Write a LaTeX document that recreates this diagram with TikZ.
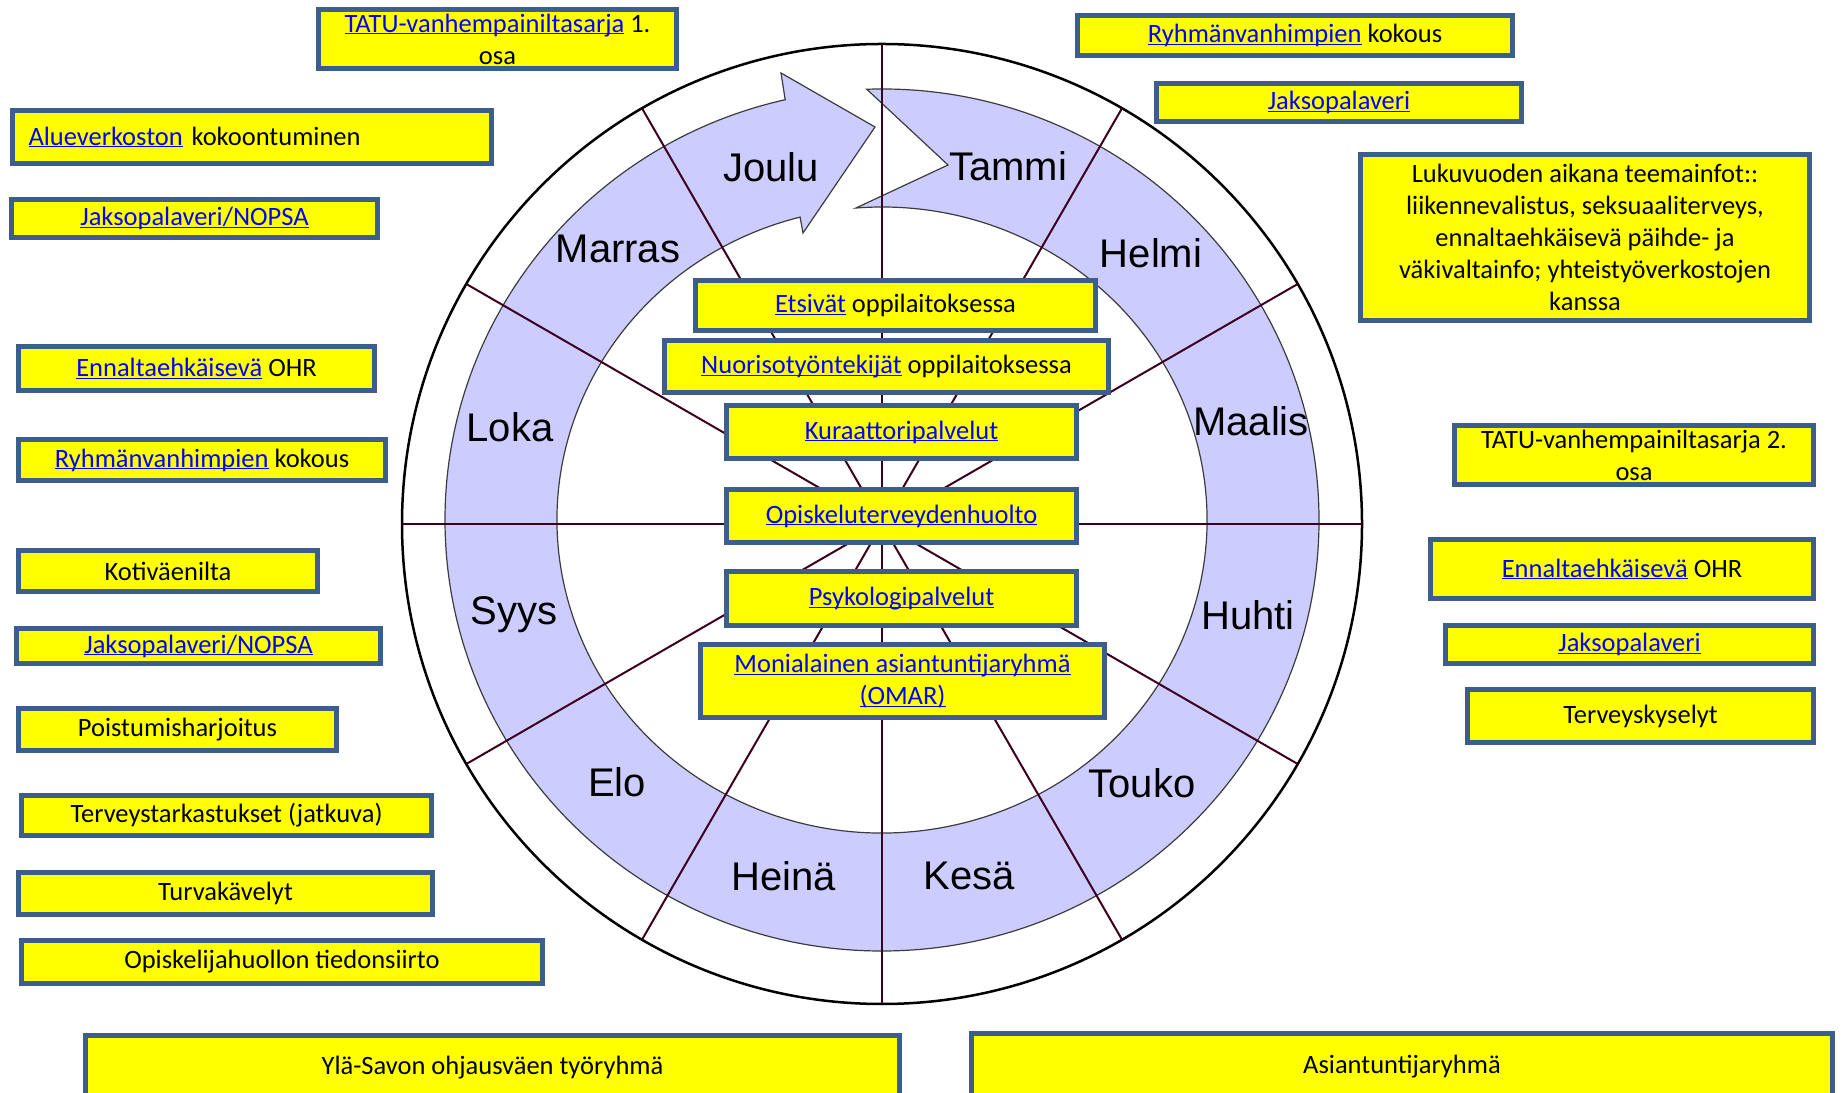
\documentclass[tikz,border=0pt]{standalone}
\usepackage{fontspec}
\setmainfont{Carlito}
\newfontfamily\monthfont{Liberation Sans}
\definecolor{boxyellow}{RGB}{255,255,0}
\definecolor{boxblue}{RGB}{59,94,140}
\definecolor{ringfill}{RGB}{204,204,255}
\definecolor{ringline}{RGB}{60,60,60}
\definecolor{spokecol}{RGB}{60,0,30}
\definecolor{linkblue}{RGB}{0,0,255}
\newcommand\lnk[1]{\textcolor{linkblue}{\underline{\smash{#1}}}\vphantom{#1}}
\tikzset{
  evbox/.style={draw=boxblue, line width=5pt, fill=boxyellow, inner sep=0pt, align=center, font=\fontsize{26.5}{32}\selectfont},
  month/.style={font=\monthfont\fontsize{40}{48}\selectfont},
  spokeline/.style={draw=spokecol, line width=2pt},
}
\begin{document}
\begin{tikzpicture}[x=1pt,y=1pt]
\useasboundingbox (0,0) rectangle (1843,1092);
\coordinate (c) at (882,568);
\draw[line width=2.5pt] (c) circle (480);
\begin{scope}[shift={(882,572)}]
\path[fill=ringfill, draw=ringline, line width=1.2pt]
  (92:437 and 431) arc[start angle=92, end angle=-257.2, x radius=437, y radius=431]
  -- (-101,447) -- (-7,393) -- (-79,287) -- (104.6:325 and 313)
  arc[start angle=-255.4, end angle=94.6, x radius=325, y radius=313]
  -- (66,355) -- cycle;
\end{scope}
\foreach \a in {0,30,...,330}
  \path[spokeline] (c) -- ++(\a:480);
\node[month] (tammi) at (1008,926) {Tammi};
\node[month] (helmi) at (1151,839) {Helmi};
\node[month] (maalis) at (1251,671) {Maalis};
\node[month] (huhti) at (1248,477) {Huhti};
\node[month] (touko) at (1142,309) {Touko};
\node[month] (kesa) at (969,216) {Kesä};
\node[month] (heina) at (784,216) {Heinä};
\node[month] (elo) at (617,310) {Elo};
\node[month] (syys) at (514,477) {Syys};
\node[month] (loka) at (510,665) {Loka};
\node[month] (marras) at (618,843) {Marras};
\node[month] (joulu) at (771,925) {Joulu};
\node[evbox, minimum width=358, minimum height=59] (tatu1) at (497.5,1053) {\lnk{TATU-vanhempainiltasarja} 1.\\osa};
\node[evbox, align=left, text width=447, inner xsep=16, minimum height=53] (aluev) at (252,955) {\lnk{Alueverkoston} kokoontuminen};
\node[evbox, minimum width=366, minimum height=38] (jakso1) at (194.5,873.5) {\lnk{Jaksopalaveri/NOPSA}};
\node[evbox, minimum width=356, minimum height=44] (ohr1) at (196.5,723.5) {\lnk{Ennaltaehkäisevä} OHR};
\node[evbox, minimum width=367, minimum height=41] (ryhma1) at (202,632) {\lnk{Ryhmänvanhimpien} kokous};
\node[evbox, minimum width=299, minimum height=41] (koti) at (168,521) {Kotiväenilta};
\node[evbox, minimum width=364, minimum height=35] (jakso2) at (198.5,446) {\lnk{Jaksopalaveri/NOPSA}};
\node[evbox, minimum width=318, minimum height=42] (poist) at (177.5,362.5) {Poistumisharjoitus};
\node[evbox, minimum width=410, minimum height=40] (tarkast) at (226.5,276.5) {Terveystarkastukset (jatkuva)};
\node[evbox, minimum width=414, minimum height=42] (turva) at (225.5,198.5) {Turvakävelyt};
\node[evbox, minimum width=521, minimum height=43] (siirto) at (282,130) {Opiskelijahuollon tiedonsiirto};
\node[evbox, minimum width=814, minimum height=65] (ylasavo) at (492.5,24) {Ylä-Savon ohjausväen työryhmä};
\node[evbox, minimum width=861, minimum height=67] (asiant) at (1402,25) {Asiantuntijaryhmä};
\node[evbox, minimum width=435, minimum height=40] (ryhma2) at (1295,1056.5) {\lnk{Ryhmänvanhimpien} kokous};
\node[evbox, minimum width=365, minimum height=38] (jakso3) at (1339,989.5) {\lnk{Jaksopalaveri}};
\node[evbox, minimum width=449, minimum height=166] (teema) at (1585,854.5) {Lukuvuoden aikana teemainfot::\\liikennevalistus, seksuaaliterveys,\\ennaltaehkäisevä päihde- ja\\väkivaltainfo; yhteistyöverkostojen\\kanssa};
\node[evbox, minimum width=359, minimum height=59] (tatu2) at (1634,637) {TATU-vanhempainiltasarja 2.\\osa};
\node[evbox, minimum width=383, minimum height=59] (ohr2) at (1622,523) {\lnk{Ennaltaehkäisevä} OHR};
\node[evbox, minimum width=368, minimum height=38] (jakso4) at (1629.5,447.5) {\lnk{Jaksopalaveri}};
\node[evbox, minimum width=346, minimum height=53] (kysely) at (1640.5,376) {Terveyskyselyt};
\node[evbox, minimum width=400, minimum height=50] (etsivat) at (895.5,786.5) {\lnk{Etsivät} oppilaitoksessa};
\node[evbox, minimum width=444, minimum height=52] (nuoriso) at (886.5,725.5) {\lnk{Nuorisotyöntekijät} oppilaitoksessa};
\node[evbox, minimum width=350, minimum height=53] (kuraat) at (901.5,660) {\lnk{Kuraattoripalvelut}};
\node[evbox, minimum width=350, minimum height=53] (terveys) at (901.5,576) {\lnk{Opiskeluterveydenhuolto}};
\node[evbox, minimum width=350, minimum height=54] (psyk) at (901.5,493.5) {\lnk{Psykologipalvelut}};
\node[evbox, minimum width=404, minimum height=73] (omar) at (902.5,411) {\lnk{Monialainen asiantuntijaryhmä}\\\lnk{(OMAR)}};
\end{tikzpicture}
\end{document}
